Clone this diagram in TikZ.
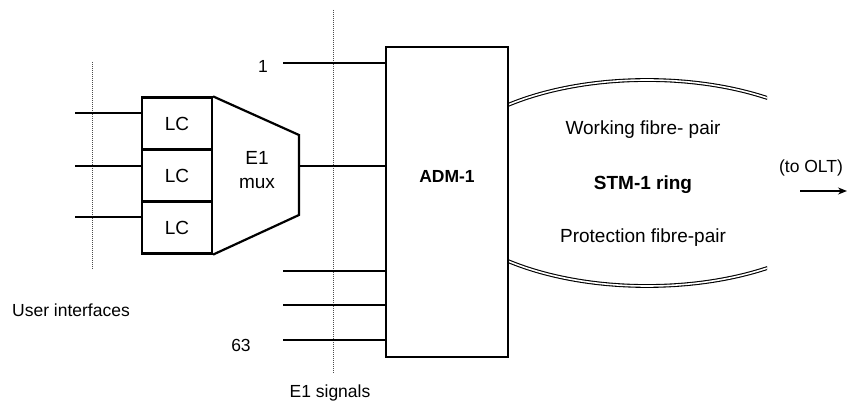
\documentclass[tikz,border=0pt]{standalone}
\usepackage{fontspec}
\setmainfont{Liberation Sans}
\usetikzlibrary{arrows.meta}
\newcommand{\txt}{\fontsize{17.5}{23}\selectfont}
\newcommand{\bigtxt}{\fontsize{19}{24}\selectfont}
\tikzset{>=Stealth,every node/.style={font=\txt},
 heavy/.style={draw,line width=2.2pt},
 lcbox/.style={heavy,minimum width=70pt,minimum height=52pt,inner sep=0pt,font=\bigtxt},
 sig/.style={line width=1.1pt},
 bound/.style={densely dotted,line width=1pt,black!70},
 ring/.style={line width=1.1pt,double=white,double distance=1.6pt},
 ringtxt/.style={font=\bigtxt},
 boldtxt/.style={font=\txt\bfseries}}

\begin{document}
\begin{tikzpicture}[x=1pt,y=-1pt]
\useasboundingbox (0,0) rectangle (847,406);
% Limites : interfaces usager et signaux E1.
\draw[bound] (92,62)--(92,270);
\draw[bound] (333,10)--(333,373);
% Cartes de ligne et leurs entrees.
\foreach \i/\y/\l in {1/123.5/113,2/175.5/166,3/227.5/217}{
  \node[lcbox] (lc\i) at (177,\y) {LC};
  \coordinate (in\i) at (75,\l);
  \draw[sig] (in\i)--(in\i -| lc\i.west);
}
% Multiplexeur E1 : trapeze accole aux cartes.
\coordinate (muxne) at (299,135);
\coordinate (muxse) at (299,215);
\draw[heavy,line join=miter] (lc1.north east)--(muxne)--(muxse)--(lc3.south east);
\node[align=center,font=\bigtxt] (mux) at (257,170) {E1\\mux};
% ADM et signaux E1 tributaires.
\node[heavy,minimum width=122pt,minimum height=310pt] (adm) at (447,202) {};
\node[boldtxt] (admlbl) at (447,176) {ADM-1};
\coordinate (muxout) at (299,166);
\draw[sig] (muxout)--(muxout -| adm.west);
\foreach \n/\y in {e1/63,e2/271,e3/305,e4/340}{
  \coordinate (\n) at (283,\y);
  \draw[sig] (\n)--(\n -| adm.west);
}
\node (first) at (263,66) {1};
\node (last) at (241,345) {63};
\node (ui) at (71,310) {User interfaces};
\node (e1sig) at (330,393) {E1 signals};
% Anneau STM-1 : deux paires de fibres.
\begin{scope}
  \clip (adm.east |- 0,0) rectangle (767,406);
  \draw[ring] (647,183) ellipse [x radius=213,y radius=103];
\end{scope}
\node[ringtxt] (work) at (643,130) {Working fibre- pair};
\node[boldtxt,font=\bigtxt\bfseries] (stm) at (643,185) {STM-1 ring};
\node[ringtxt] (prot) at (643,238) {Protection fibre-pair};
% Sortie vers l'OLT.
\node (olt) at (811,168) {(to OLT)};
\coordinate (oltfrom) at (800,191);
\coordinate (oltto) at (847,191);
\draw[-{Stealth[length=9pt,width=7pt]},line width=2pt] (oltfrom)--(oltto);
\end{tikzpicture}
\end{document}
